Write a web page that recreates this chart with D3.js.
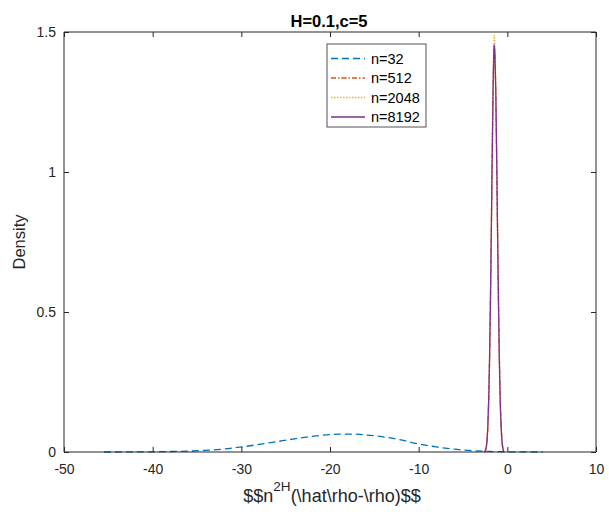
<!DOCTYPE html>
<html lang="en">
<head>
<meta charset="UTF-8">
<title>H=0.1,c=5</title>
<script src="https://cdn.jsdelivr.net/npm/d3@7"></script>
<style>
  body { margin: 0; background: #fff; }
  text { font-family: "Liberation Sans", Arial, sans-serif; }
</style>
</head>
<body>
<svg width="609" height="515"></svg>
<script>
    // n=32 curve
    const wideX = [-45.5, -42, -40, -38, -36, -34, -32, -30, -28, -26, -24, -22, -20, -19, -18, -17, -16, -14, -12, -10, -8, -6, -4, -2, 0, 2, 4]
    const wideY = [0, 0.0003, 0.0007, 0.0017, 0.003, 0.006, 0.0105, 0.018, 0.027, 0.037, 0.047, 0.056, 0.062, 0.0635, 0.064, 0.0635, 0.061, 0.054, 0.043, 0.029, 0.018, 0.010, 0.005, 0.002, 0.0008, 0.0002, 0]

    // sharp peaks (n=512, 2048, 8192) on a shared grid
    const peakX = [-2.6, -2.5, -2.4, -2.3, -2.2, -2.1, -2.0, -1.9, -1.8, -1.7, -1.6, -1.5, -1.48, -1.4, -1.3, -1.2, -1.1, -1.0, -0.9, -0.8, -0.7, -0.6, -0.5, -0.4]
    const y512  = [0, 0.004, 0.014, 0.040, 0.095, 0.19, 0.34, 0.55, 0.80, 1.07, 1.30, 1.43, 1.44, 1.41, 1.27, 1.04, 0.78, 0.54, 0.34, 0.19, 0.095, 0.040, 0.013, 0]
    const y2048 = [0, 0.003, 0.011, 0.034, 0.085, 0.18, 0.33, 0.54, 0.80, 1.08, 1.33, 1.48, 1.49, 1.45, 1.30, 1.05, 0.78, 0.53, 0.32, 0.17, 0.085, 0.034, 0.011, 0]
    const y8192 = [0, 0.004, 0.013, 0.038, 0.092, 0.19, 0.34, 0.55, 0.80, 1.07, 1.31, 1.445, 1.455, 1.42, 1.28, 1.05, 0.78, 0.54, 0.33, 0.18, 0.090, 0.038, 0.013, 0]

    const seriesNames = ["n=32", "n=512", "n=2048", "n=8192"]
    const seriesColors = ["#0072BD", "#D95319", "#EDB120", "#7E2F8E"]
    const seriesDash = ["7,4", "5,2,1.5,2", "1.5,1.5", null]

    const xTicks = [-50, -40, -30, -20, -10, 0, 10]
    const yTicks = [0, 0.5, 1, 1.5]

    const mLeft = 64, mRight = 596, mTop = 32, mBottom = 452

    const svg = d3.select("svg")
    const x = d3.scaleLinear().domain([-50, 10]).range([mLeft, mRight])
    const y = d3.scaleLinear().domain([0, 1.5]).range([mBottom, mTop])
    const axisColor = "#262626"

    const lineGen = d3.line().x(d => x(d[0])).y(d => y(d[1])).curve(d3.curveMonotoneX)
    const seriesData = [
        d3.zip(wideX, wideY),
        d3.zip(peakX, y512),
        d3.zip(peakX, y2048),
        d3.zip(peakX, y8192)
    ]

    const plot = svg.append("g")
    seriesData.forEach((data, i) => {
        plot.append("path")
            .attr("d", lineGen(data))
            .attr("fill", "none")
            .attr("stroke", seriesColors[i])
            .attr("stroke-width", 1.3)
            .attr("stroke-dasharray", seriesDash[i])
    })

    // axes, MATLAB style with box and inward ticks
    const fmt = d => String(d)
    const xAxisB = d3.axisBottom(x).tickValues(xTicks).tickSize(-5).tickPadding(12).tickFormat(fmt)
    const xAxisT = d3.axisTop(x).tickValues(xTicks).tickSize(-5).tickFormat("")
    const yAxisL = d3.axisLeft(y).tickValues(yTicks).tickSize(-5).tickPadding(8).tickFormat(fmt)
    const yAxisR = d3.axisRight(y).tickValues(yTicks).tickSize(-5).tickFormat("")

    const gB = svg.append("g").attr("transform", `translate(0,${mBottom})`).call(xAxisB)
    const gT = svg.append("g").attr("transform", `translate(0,${mTop})`).call(xAxisT)
    const gL = svg.append("g").attr("transform", `translate(${mLeft},0)`).call(yAxisL)
    const gR = svg.append("g").attr("transform", `translate(${mRight},0)`).call(yAxisR)
    ;[gB, gT, gL, gR].forEach(g => {
        g.selectAll(".domain").attr("stroke", axisColor).attr("stroke-width", 1)
        g.selectAll(".tick line").attr("stroke", axisColor)
        g.selectAll(".tick text").attr("fill", axisColor)
            .style("font-size", "14px").style("font-family", "Liberation Sans, Arial, sans-serif")
    })
    gB.select(".domain").attr("d", `M${mLeft},0H${mRight}`)
    gT.select(".domain").attr("d", `M${mLeft},0H${mRight}`)
    gL.select(".domain").attr("d", `M0,${mTop}V${mBottom}`)
    gR.select(".domain").attr("d", `M0,${mTop}V${mBottom}`)

    // title
    svg.append("text")
        .attr("x", 329).attr("y", 26.5)
        .attr("text-anchor", "middle")
        .attr("font-size", "16.5px").attr("font-weight", "bold")
        .attr("fill", "#000")
        .text("H=0.1,c=5")

    // y label
    svg.append("text")
        .attr("transform", `translate(25,242) rotate(-90)`)
        .attr("text-anchor", "middle")
        .attr("font-size", "16.5px")
        .attr("fill", axisColor)
        .text("Density")

    // x label
    const xl = svg.append("text")
        .attr("x", 332).attr("y", 502)
        .attr("text-anchor", "middle")
        .attr("font-size", "18px")
        .attr("fill", axisColor)
    xl.append("tspan").text("$$n")
    xl.append("tspan").attr("dy", -11).attr("font-size", "13.5px").text("2H")
    xl.append("tspan").attr("dy", 11).text("(\\hat\\rho-\\rho)$$")

    // legend
    const lg = svg.append("g").attr("transform", "translate(327,44)")
    lg.append("rect").attr("width", 99).attr("height", 83)
        .attr("fill", "#fff").attr("stroke", axisColor).attr("stroke-width", 0.8)
    seriesNames.forEach((name, i) => {
        const yy = 14.5 + i * 19.5
        lg.append("line")
            .attr("x1", 4).attr("x2", 38).attr("y1", yy).attr("y2", yy)
            .attr("stroke", seriesColors[i]).attr("stroke-width", 1.3)
            .attr("stroke-dasharray", seriesDash[i])
        lg.append("text")
            .attr("x", 44).attr("y", yy + 5)
            .attr("font-size", "14.5px").attr("fill", "#000")
            .text(name)
    })
</script>
</body>
</html>
